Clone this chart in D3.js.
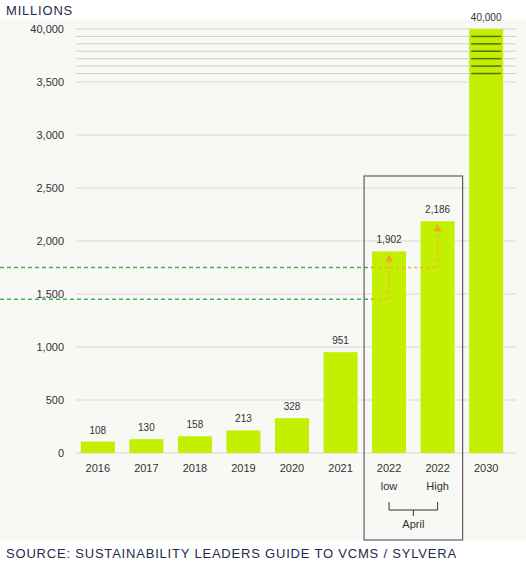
<!DOCTYPE html>
<html><head><meta charset="utf-8">
<script src="https://cdn.jsdelivr.net/npm/d3@7"></script>
<style>body{margin:0;background:#fff}</style></head>
<body><svg id="c" width="526" height="566"></svg>
<script>
const categories=["2016","2017","2018","2019","2020","2021","2022\nlow","2022\nHigh","2030"];
const values=[108,130,158,213,328,951,1902,2186,40000];
const valueLabels=["108","130","158","213","328","951","1,902","2,186","40,000"];
const tickValues=[0,500,1000,1500,2000,2500,3000,3500,4000];
const tickLabels=["0","500","1,000","1,500","2,000","2,500","3,000","3,500","40,000"];
const greenRefs=[1750,1450];

const svg=d3.select("#c");
svg.append("rect").attr("x",0).attr("y",20).attr("width",526).attr("height",520).attr("fill","#f8f8f4");
const y=d3.scaleLinear().domain([0,4000]).range([453,29]);
const x=d3.scaleBand().domain(categories).range([76,508]).paddingInner(0.3).paddingOuter(0.1);
const font="Helvetica, Arial, 'Liberation Sans', sans-serif";
// grid
svg.selectAll(".g").data(tickValues.slice(0,8)).join("line")
 .attr("x1",76).attr("x2",516).attr("y1",d=>y(d)).attr("y2",d=>y(d)).attr("stroke","#d8d8d4");
const breakVals=[3580,3650,3720,3790,3860,3930,4000];
svg.selectAll(".gb").data(breakVals).join("line")
 .attr("x1",76).attr("x2",516).attr("y1",d=>y(d)).attr("y2",d=>y(d)).attr("stroke","#cfcfcb");
// y labels
svg.selectAll(".yl").data(tickValues).join("text")
 .attr("x",64).attr("y",d=>y(d)+4).attr("text-anchor","end").attr("font-family",font).attr("font-size",11).attr("fill","#333")
 .text((d,i)=>tickLabels[i]);
// bars
const vy=v=>y(Math.min(v,4000));
svg.selectAll(".b").data(values).join("rect")
 .attr("x",(d,i)=>x(categories[i])).attr("width",x.bandwidth())
 .attr("y",d=>vy(d)).attr("height",d=>453-vy(d)).attr("fill","#c3ef00");
const last=categories[8];
svg.selectAll(".bb").data(breakVals.slice(0,6)).join("line")
 .attr("x1",x(last)+2).attr("x2",x(last)+x.bandwidth()-2).attr("y1",d=>y(d)).attr("y2",d=>y(d)).attr("stroke","#5b6b10").attr("stroke-width",1.5);
svg.selectAll(".vl").data(values).join("text")
 .attr("x",(d,i)=>x(categories[i])+x.bandwidth()/2).attr("y",d=>vy(d)-8).attr("text-anchor","middle")
 .attr("font-family",font).attr("font-size",10).attr("fill","#333").text((d,i)=>valueLabels[i]);
svg.selectAll(".xl").data(categories).join("text")
 .attr("x",d=>x(d)+x.bandwidth()/2).attr("y",472).attr("text-anchor","middle").attr("font-family",font).attr("font-size",11).attr("fill","#333")
 .each(function(d){const t=d3.select(this);d.split("\n").forEach((s,i)=>t.append("tspan").attr("x",x(d)+x.bandwidth()/2).attr("dy",i?18:0).text(s));});
// reference lines
const cLow=x(categories[6])+x.bandwidth()/2, cHigh=x(categories[7])+x.bandwidth()/2;
greenRefs.forEach(v=>svg.append("line").attr("x1",0).attr("x2",x(categories[6])).attr("y1",y(v)).attr("y2",y(v))
 .attr("stroke","#3cb54a").attr("stroke-width",1.5).attr("stroke-dasharray","4,3"));
svg.append("line").attr("x1",x(categories[6])).attr("x2",cHigh).attr("y1",y(greenRefs[0])).attr("y2",y(greenRefs[0]))
 .attr("stroke","#f5b335").attr("stroke-width",1.5).attr("stroke-dasharray","3,3");
svg.append("line").attr("x1",x(categories[6])).attr("x2",cLow).attr("y1",y(greenRefs[1])).attr("y2",y(greenRefs[1]))
 .attr("stroke","#f5b335").attr("stroke-width",1.5).attr("stroke-dasharray","3,3");
[[cLow,greenRefs[1],values[6]],[cHigh,greenRefs[0],values[7]]].forEach(([cx,v0,v1])=>{
 svg.append("line").attr("x1",cx).attr("x2",cx).attr("y1",y(v0)).attr("y2",y(v1)+8)
  .attr("stroke","#f5b335").attr("stroke-width",1.5).attr("stroke-dasharray","3,3");
 svg.append("path").attr("d",`M${cx-4},${y(v1)+10}L${cx+4},${y(v1)+10}L${cx},${y(v1)+3}Z`).attr("fill","#f5a623");
});
// box
svg.append("rect").attr("x",x(categories[6])-8).attr("y",176).attr("width",x(categories[7])+x.bandwidth()+8-(x(categories[6])-8)).attr("height",364)
 .attr("fill","none").attr("stroke","#6b5a66").attr("stroke-width",1.2);
// bracket
svg.append("path").attr("d",`M${cLow},502V510H${cHigh}V502M${(cLow+cHigh)/2},510V516`).attr("fill","none").attr("stroke","#333");
svg.append("text").attr("x",(cLow+cHigh)/2).attr("y",528).attr("text-anchor","middle").attr("font-family",font).attr("font-size",11).attr("fill","#333").text("April");
// titles
svg.append("text").attr("x",6).attr("y",15).attr("font-family",font).attr("font-size",13).attr("letter-spacing",0.8).attr("fill","#1f2a4d").text("MILLIONS");
svg.append("text").attr("x",6).attr("y",558).attr("font-family",font).attr("font-size",13).attr("letter-spacing",0.8).attr("fill","#1f2a4d").text("SOURCE: SUSTAINABILITY LEADERS GUIDE TO VCMS / SYLVERA");
</script></body></html>
